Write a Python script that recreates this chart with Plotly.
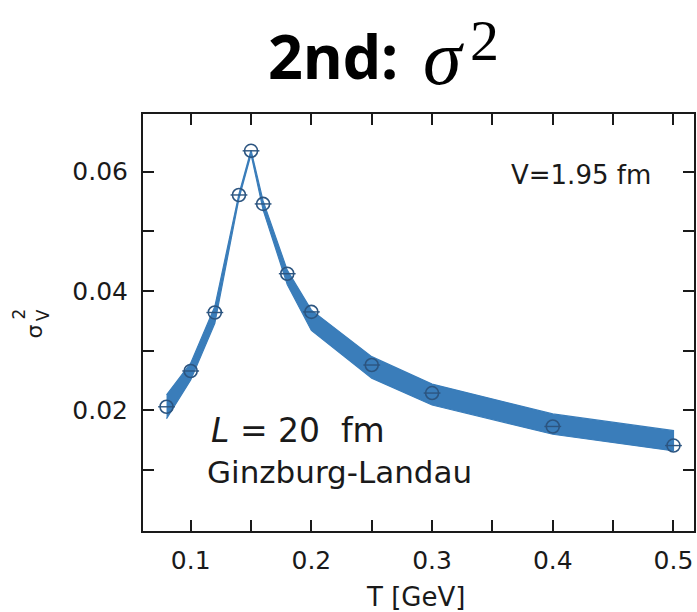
import plotly.graph_objects as go

# ---- data ----
T_pts = [0.08, 0.10, 0.12, 0.14, 0.15, 0.16, 0.18, 0.20, 0.25, 0.30, 0.40, 0.50]
sig_pts = [0.0206, 0.0266, 0.0364, 0.0561, 0.0635, 0.0546, 0.0429, 0.0365, 0.0276, 0.0229, 0.0173, 0.0141]

T_band = [0.08, 0.10, 0.12, 0.14, 0.15, 0.16, 0.18, 0.20, 0.25, 0.30, 0.40, 0.50]
band_lo = [0.0186, 0.0251, 0.0346, 0.0555, 0.0629, 0.0536, 0.0411, 0.0334, 0.0254, 0.0209, 0.0160, 0.0132]
band_hi = [0.0226, 0.0279, 0.0374, 0.0563, 0.0636, 0.0551, 0.0435, 0.0368, 0.0290, 0.0244, 0.0194, 0.0166]

x_ticks = [0.10, 0.15, 0.20, 0.25, 0.30, 0.35, 0.40, 0.45, 0.50]
x_ticktext = ["0.1", "", "0.2", "", "0.3", "", "0.4", "", "0.5"]
y_ticks = [0.01, 0.02, 0.03, 0.04, 0.05, 0.06]
y_ticktext = ["", "0.02", "", "0.04", "", "0.06"]

W, H = 697, 612
L_M, R_M, T_M, B_M = 143, 1, 114, 81
PW = W - L_M - R_M
PH = H - T_M - B_M


def px(xpix):
    return (xpix - L_M) / PW


def py(ypix):
    return (H - B_M - ypix) / PH


BAND = "#3a7dba"
MK = "#2c5580"
INK = "#1a1a1a"
SANS = "DejaVu Sans"

fig = go.Figure()

fig.add_trace(go.Scatter(
    x=T_band + T_band[::-1],
    y=band_hi + band_lo[::-1],
    fill="toself", fillcolor=BAND, mode="lines",
    line=dict(color=BAND, width=1.2), hoverinfo="skip", showlegend=False))

fig.add_trace(go.Scatter(
    x=T_pts, y=sig_pts, mode="markers",
    marker=dict(symbol="circle-open", size=13, color=MK, line=dict(color=MK, width=1.6)),
    showlegend=False))
fig.add_trace(go.Scatter(
    x=T_pts, y=sig_pts, mode="markers",
    marker=dict(symbol="line-ew-open", size=12, color=MK, line=dict(color=MK, width=1.4)),
    showlegend=False))

axis_common = dict(
    showline=True, linewidth=2, linecolor=INK, mirror="ticks",
    ticks="inside", ticklen=11, tickwidth=1.5, tickcolor=INK,
    showgrid=False, zeroline=False,
    tickfont=dict(family=SANS, size=25, color=INK),
)

fig.update_xaxes(range=[0.0605, 0.517], tickmode="array", tickvals=x_ticks,
                 ticktext=x_ticktext, ticklabelstandoff=6, **axis_common)
fig.update_yaxes(range=[-0.00022, 0.06967], tickmode="array", tickvals=y_ticks,
                 ticktext=y_ticktext, ticklabelstandoff=8, **axis_common)

ann = []
# title
ann.append(dict(text="<b>2nd:</b>", x=px(266), y=py(55), xanchor="left", yanchor="middle",
                font=dict(family="Noto Sans", size=61, color="black")))
ann.append(dict(text="<i>σ</i>", x=px(445), y=py(58), xanchor="center", yanchor="middle",
                font=dict(family="Liberation Serif", size=78, color="black")))
ann.append(dict(text="2", x=px(486), y=py(40), xanchor="center", yanchor="middle",
                font=dict(family="Liberation Serif", size=58, color="black")))
# in-plot labels
ann.append(dict(text="V=1.95 fm", x=px(583), y=py(175), xanchor="center", yanchor="middle",
                font=dict(family=SANS, size=26, color=INK)))
ann.append(dict(text="<i>L</i> = 20  fm", x=px(209), y=py(430), xanchor="left", yanchor="middle",
                font=dict(family=SANS, size=33, color=INK)))
ann.append(dict(text="Ginzburg-Landau", x=px(205), y=py(472), xanchor="left", yanchor="middle",
                font=dict(family=SANS, size=31, color=INK)))
# axis titles
ann.append(dict(text="T [GeV]", x=px(416), y=py(597), xanchor="center", yanchor="middle",
                font=dict(family=SANS, size=26, color=INK)))
ann.append(dict(text="σ", x=px(34), y=py(331), xanchor="center", yanchor="middle", textangle=-90,
                font=dict(family=SANS, size=22, color=INK)))
ann.append(dict(text="2", x=px(19), y=py(314), xanchor="center", yanchor="middle", textangle=-90,
                font=dict(family=SANS, size=17, color=INK)))
ann.append(dict(text="V", x=px(43), y=py(315), xanchor="center", yanchor="middle", textangle=-90,
                font=dict(family=SANS, size=17, color=INK)))

for a in ann:
    a.update(xref="paper", yref="paper", showarrow=False)

fig.update_layout(
    width=W, height=H,
    margin=dict(l=L_M, r=R_M, t=T_M, b=B_M, pad=0),
    paper_bgcolor="white", plot_bgcolor="white",
    annotations=ann, showlegend=False,
)

fig.write_html("out.html", include_plotlyjs=True, full_html=True,
               config={"displayModeBar": False})
